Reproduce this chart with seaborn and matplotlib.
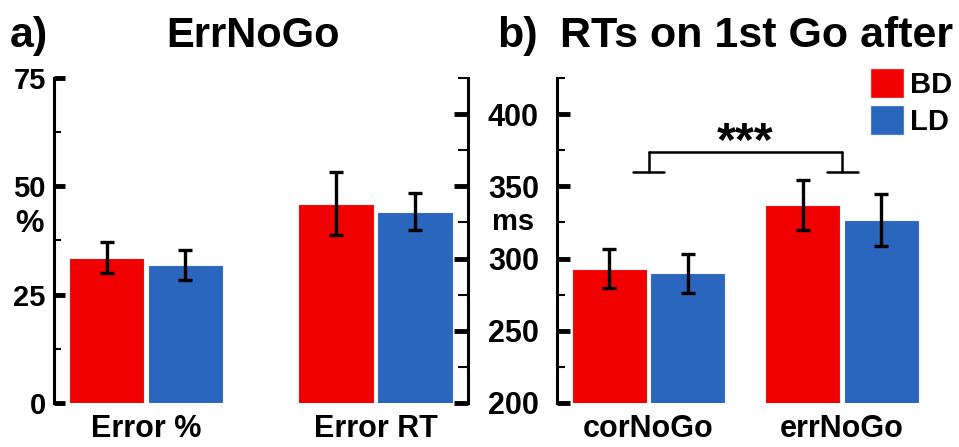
import numpy as np
import pandas as pd
import matplotlib
matplotlib.use('Agg')
import matplotlib.pyplot as plt
import seaborn as sns
from matplotlib.patches import Patch
from matplotlib.ticker import MultipleLocator

# данные (значения оценены по рисунку)
groups = ['BD', 'LD']
err_cats = ['Error %', 'Error RT']
err_pct_mean = [33.5, 31.8]
err_pct_sem = [3.6, 3.5]
err_rt_mean = [338.0, 332.5]
err_rt_sem = [22.0, 13.0]

go_cats = ['corNoGo', 'errNoGo']
go_bd_mean = [293.0, 337.0]
go_bd_sem = [13.5, 17.5]
go_ld_mean = [290.0, 327.0]
go_ld_sem = [13.5, 18.0]

sig_pair = ['corNoGo', 'errNoGo']
sig_foot, sig_top = 360, 374
sig_text = '***'

colors = ['#F00000', '#2B66BE']

sns.set_theme(style='white')
plt.rcParams['font.family'] = ['Liberation Sans', 'DejaVu Sans']
plt.rcParams['font.weight'] = 'bold'
plt.rcParams['text.color'] = 'black'
plt.rcParams['xtick.color'] = 'black'
plt.rcParams['ytick.color'] = 'black'
plt.rcParams['axes.labelcolor'] = 'black'

# таблицы для seaborn
df_pct = pd.DataFrame({'cat': 'Error %', 'group': groups,
                       'val': err_pct_mean, 'sem': err_pct_sem})
df_rt = pd.DataFrame({'cat': 'Error RT', 'group': groups,
                      'val': err_rt_mean, 'sem': err_rt_sem})
df_go = pd.DataFrame({'cat': go_cats * 2,
                      'group': ['BD'] * 2 + ['LD'] * 2,
                      'val': go_bd_mean + go_ld_mean,
                      'sem': go_bd_sem + go_ld_sem})

fig = plt.figure(figsize=(9.59, 4.47), dpi=100)
W, H = 959, 447
ax1 = fig.add_axes([54 / W, 44 / H, 414 / W, 325 / H])
ax1r = ax1.twinx()
ax2 = fig.add_axes([557 / W, 44 / H, 393 / W, 325 / H])


def bars(ax, df, order, width):
    sns.barplot(data=df, x='cat', y='val', hue='group', order=order,
                hue_order=groups, palette=colors, saturation=1, width=width,
                gap=0.04, edgecolor='#f4f4f4', linewidth=0.8, errorbar=None,
                legend=False, ax=ax)
    # планки ошибок по центрам столбиков
    for cont, g in zip(ax.containers, groups):
        sub = df[df['group'] == g].set_index('cat')
        present = [c for c in order if c in sub.index]
        for patch, c in zip(cont.patches, present):
            xc = patch.get_x() + patch.get_width() / 2
            ax.errorbar(xc, sub.loc[c, 'val'], yerr=sub.loc[c, 'sem'],
                        fmt='none', ecolor='black', elinewidth=2.4,
                        capsize=5, capthick=2.4, zorder=5)


bars(ax1, df_pct, err_cats, 0.688)
bars(ax1r, df_rt, err_cats, 0.688)
bars(ax2, df_go, go_cats, 0.81)

# оси
ax1.set_ylim(0, 75)
ax1r.set_ylim(200, 425)
ax2.set_ylim(200, 425)
ax1.set_xlim(-0.401, 1.403)
ax1r.set_xlim(-0.401, 1.403)
ax2.set_xlim(-0.473, 1.558)

for ax in (ax1, ax1r, ax2):
    for s in ax.spines.values():
        s.set_visible(False)
    ax.set_xlabel('')
    ax.set_ylabel('')
    ax.tick_params(axis='x', length=0, pad=8, labelsize=22)

ax1.spines['left'].set_visible(True)
ax1r.spines['right'].set_visible(True)
ax2.spines['left'].set_visible(True)
for s in (ax1.spines['left'], ax1r.spines['right'], ax2.spines['left']):
    s.set_linewidth(2.2)
    s.set_color('black')

ax1.yaxis.set_major_locator(MultipleLocator(25))
ax1.yaxis.set_minor_locator(MultipleLocator(12.5))
for ax in (ax1r, ax2):
    ax.set_yticks([200, 250, 300, 350, 400])
    ax.set_yticks([225, 275, 325, 375, 425], minor=True)

ax1.tick_params(axis='y', which='both', left=True, right=False)
ax2.tick_params(axis='y', which='both', left=True, right=False)
ax1r.tick_params(axis='y', which='both', left=False, right=True)

ax1.tick_params(axis='y', which='major', direction='in', length=8, width=3.5,
                labelsize=21, pad=6)
ax1.tick_params(axis='y', which='minor', direction='in', length=5, width=1.5)
ax1r.tick_params(axis='y', which='major', direction='in', length=10, width=3.5,
                 labelright=False)
ax1r.tick_params(axis='y', which='minor', direction='in', length=7, width=1.5)
ax2.tick_params(axis='y', which='major', direction='in', length=9, width=3.5,
                labelsize=22, pad=13)
ax2.tick_params(axis='y', which='minor', direction='in', length=6, width=1.5)
ax1r.tick_params(axis='x', labelbottom=False)

ax1.set_ylabel('%', rotation=0, fontsize=23, fontweight='bold', va='center')
ax1.yaxis.set_label_coords(-0.058, 0.55)
ax2.set_ylabel('ms', rotation=0, fontsize=21, fontweight='bold', va='center')
ax2.yaxis.set_label_coords(-0.112, 0.556)

# скобка значимости
x0, x1 = [go_cats.index(c) for c in sig_pair]
foot = 0.08
for xc in (x0, x1):
    ax2.plot([xc - foot, xc + foot], [sig_foot, sig_foot], color='black', lw=1.8)
    ax2.plot([xc, xc], [sig_foot, sig_top], color='black', lw=1.8)
ax2.plot([x0, x1], [sig_top, sig_top], color='black', lw=1.8)
ax2.text((x0 + x1) / 2, sig_top - 2, sig_text, ha='center', va='baseline',
         fontsize=35, fontweight='bold')

# легенда
handles = [Patch(facecolor=c, edgecolor='#f4f4f4', label=g)
           for c, g in zip(colors, groups)]
ax2.legend(handles=handles, loc='upper right', bbox_to_anchor=(1.005, 1.03),
           frameon=False, fontsize=21, handlelength=1.15, handleheight=1.2,
           handletextpad=0.2, labelspacing=0.2, borderpad=0,
           borderaxespad=0)

# заголовки
fig.text(10 / W, 1 - 47 / H, 'a)', fontsize=31, fontweight='bold')
fig.text(253 / W, 1 - 47 / H, 'ErrNoGo', fontsize=30, fontweight='bold',
         ha='center')
fig.text(497 / W, 1 - 47 / H, 'b)', fontsize=31, fontweight='bold')
fig.text(757 / W, 1 - 47 / H, 'RTs on 1st Go after', fontsize=31,
         fontweight='bold', ha='center')

fig.savefig('out.png', dpi=100)
